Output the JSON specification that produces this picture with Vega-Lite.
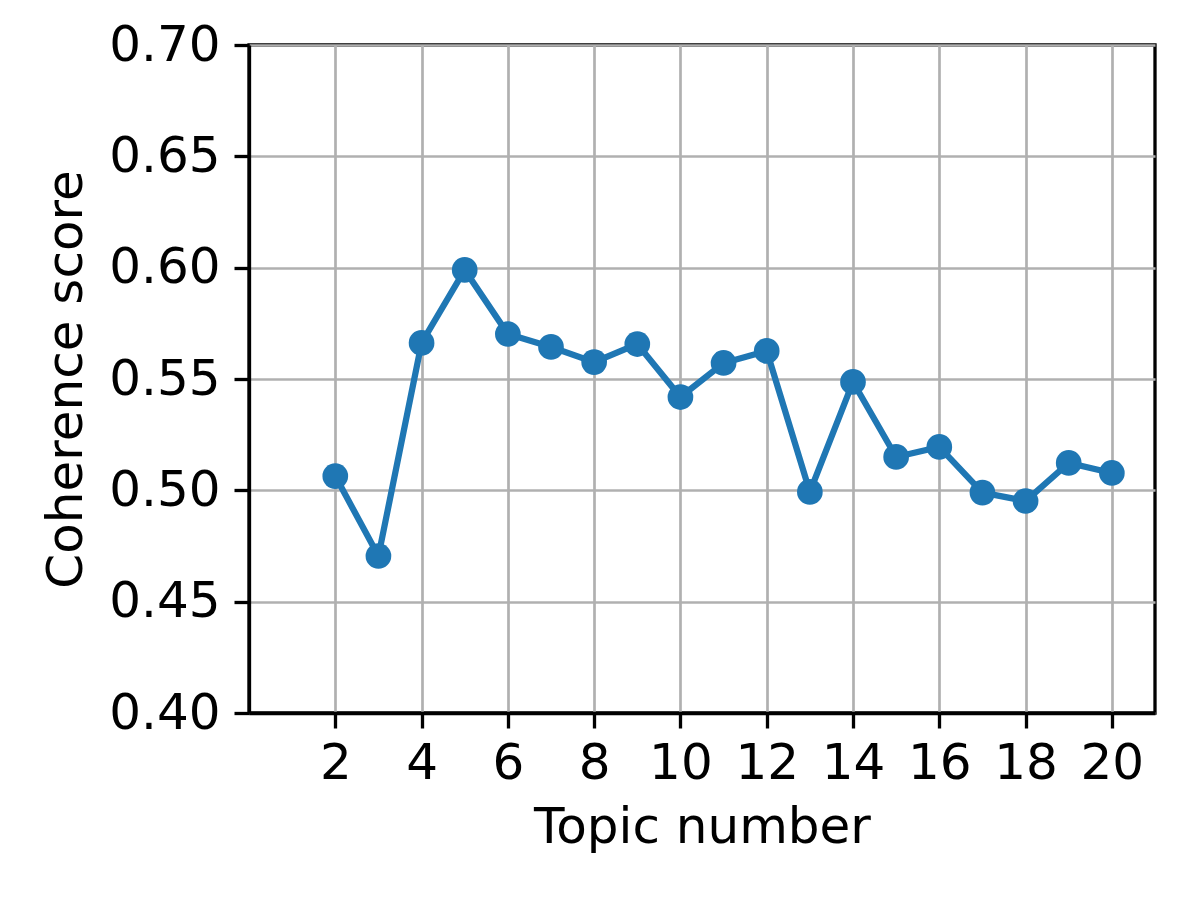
{
  "$schema": "https://vega.github.io/schema/vega-lite/v6.json",
  "width": 906,
  "height": 668,
  "autosize": {"type": "none"},
  "padding": {"left": 249, "top": 45, "right": 45, "bottom": 187},
  "background": "white",
  "config": {
    "view": {"stroke": "black", "strokeWidth": 3.3},
    "font": "DejaVu Sans",
    "axis": {
      "labelFont": "DejaVu Sans",
      "titleFont": "DejaVu Sans",
      "labelFontSize": 50,
      "titleFontSize": 50,
      "titleFontWeight": "normal",
      "labelColor": "black",
      "titleColor": "black",
      "domainColor": "black",
      "domainWidth": 3.3,
      "tickColor": "black",
      "tickWidth": 3.3,
      "tickSize": 15,
      "gridColor": "#b0b0b0",
      "gridWidth": 2.7,
      "gridOpacity": 1
    }
  },
  "data": {
    "values": [
      {"topic": 2, "score": 0.5064},
      {"topic": 3, "score": 0.4705},
      {"topic": 4, "score": 0.5662},
      {"topic": 5, "score": 0.599},
      {"topic": 6, "score": 0.5702},
      {"topic": 7, "score": 0.5644},
      {"topic": 8, "score": 0.5576},
      {"topic": 9, "score": 0.5657},
      {"topic": 10, "score": 0.5419},
      {"topic": 11, "score": 0.5572},
      {"topic": 12, "score": 0.5626},
      {"topic": 13, "score": 0.4993},
      {"topic": 14, "score": 0.5487},
      {"topic": 15, "score": 0.515},
      {"topic": 16, "score": 0.5195},
      {"topic": 17, "score": 0.499},
      {"topic": 18, "score": 0.4952},
      {"topic": 19, "score": 0.5123},
      {"topic": 20, "score": 0.5078}
    ]
  },
  "encoding": {
    "x": {
      "field": "topic",
      "type": "quantitative",
      "scale": {"domain": [0, 21], "nice": false, "zero": false},
      "axis": {
        "title": "Topic number",
        "values": [2, 4, 6, 8, 10, 12, 14, 16, 18, 20],
        "labelPadding": 10,
        "titlePadding": 14,
        "labelFlush": false
      }
    },
    "y": {
      "field": "score",
      "type": "quantitative",
      "scale": {"domain": [0.4, 0.7], "nice": false, "zero": false},
      "axis": {
        "title": "Coherence score",
        "values": [0.4, 0.45, 0.5, 0.55, 0.6, 0.65, 0.7],
        "format": ".2f",
        "labelPadding": 14,
        "titlePadding": 17,
        "labelFlush": false
      }
    }
  },
  "layer": [
    {"mark": {"type": "line", "color": "#1f77b4", "strokeWidth": 6.25}},
    {"mark": {"type": "point", "filled": true, "color": "#1f77b4", "opacity": 1, "size": 660}}
  ]
}
